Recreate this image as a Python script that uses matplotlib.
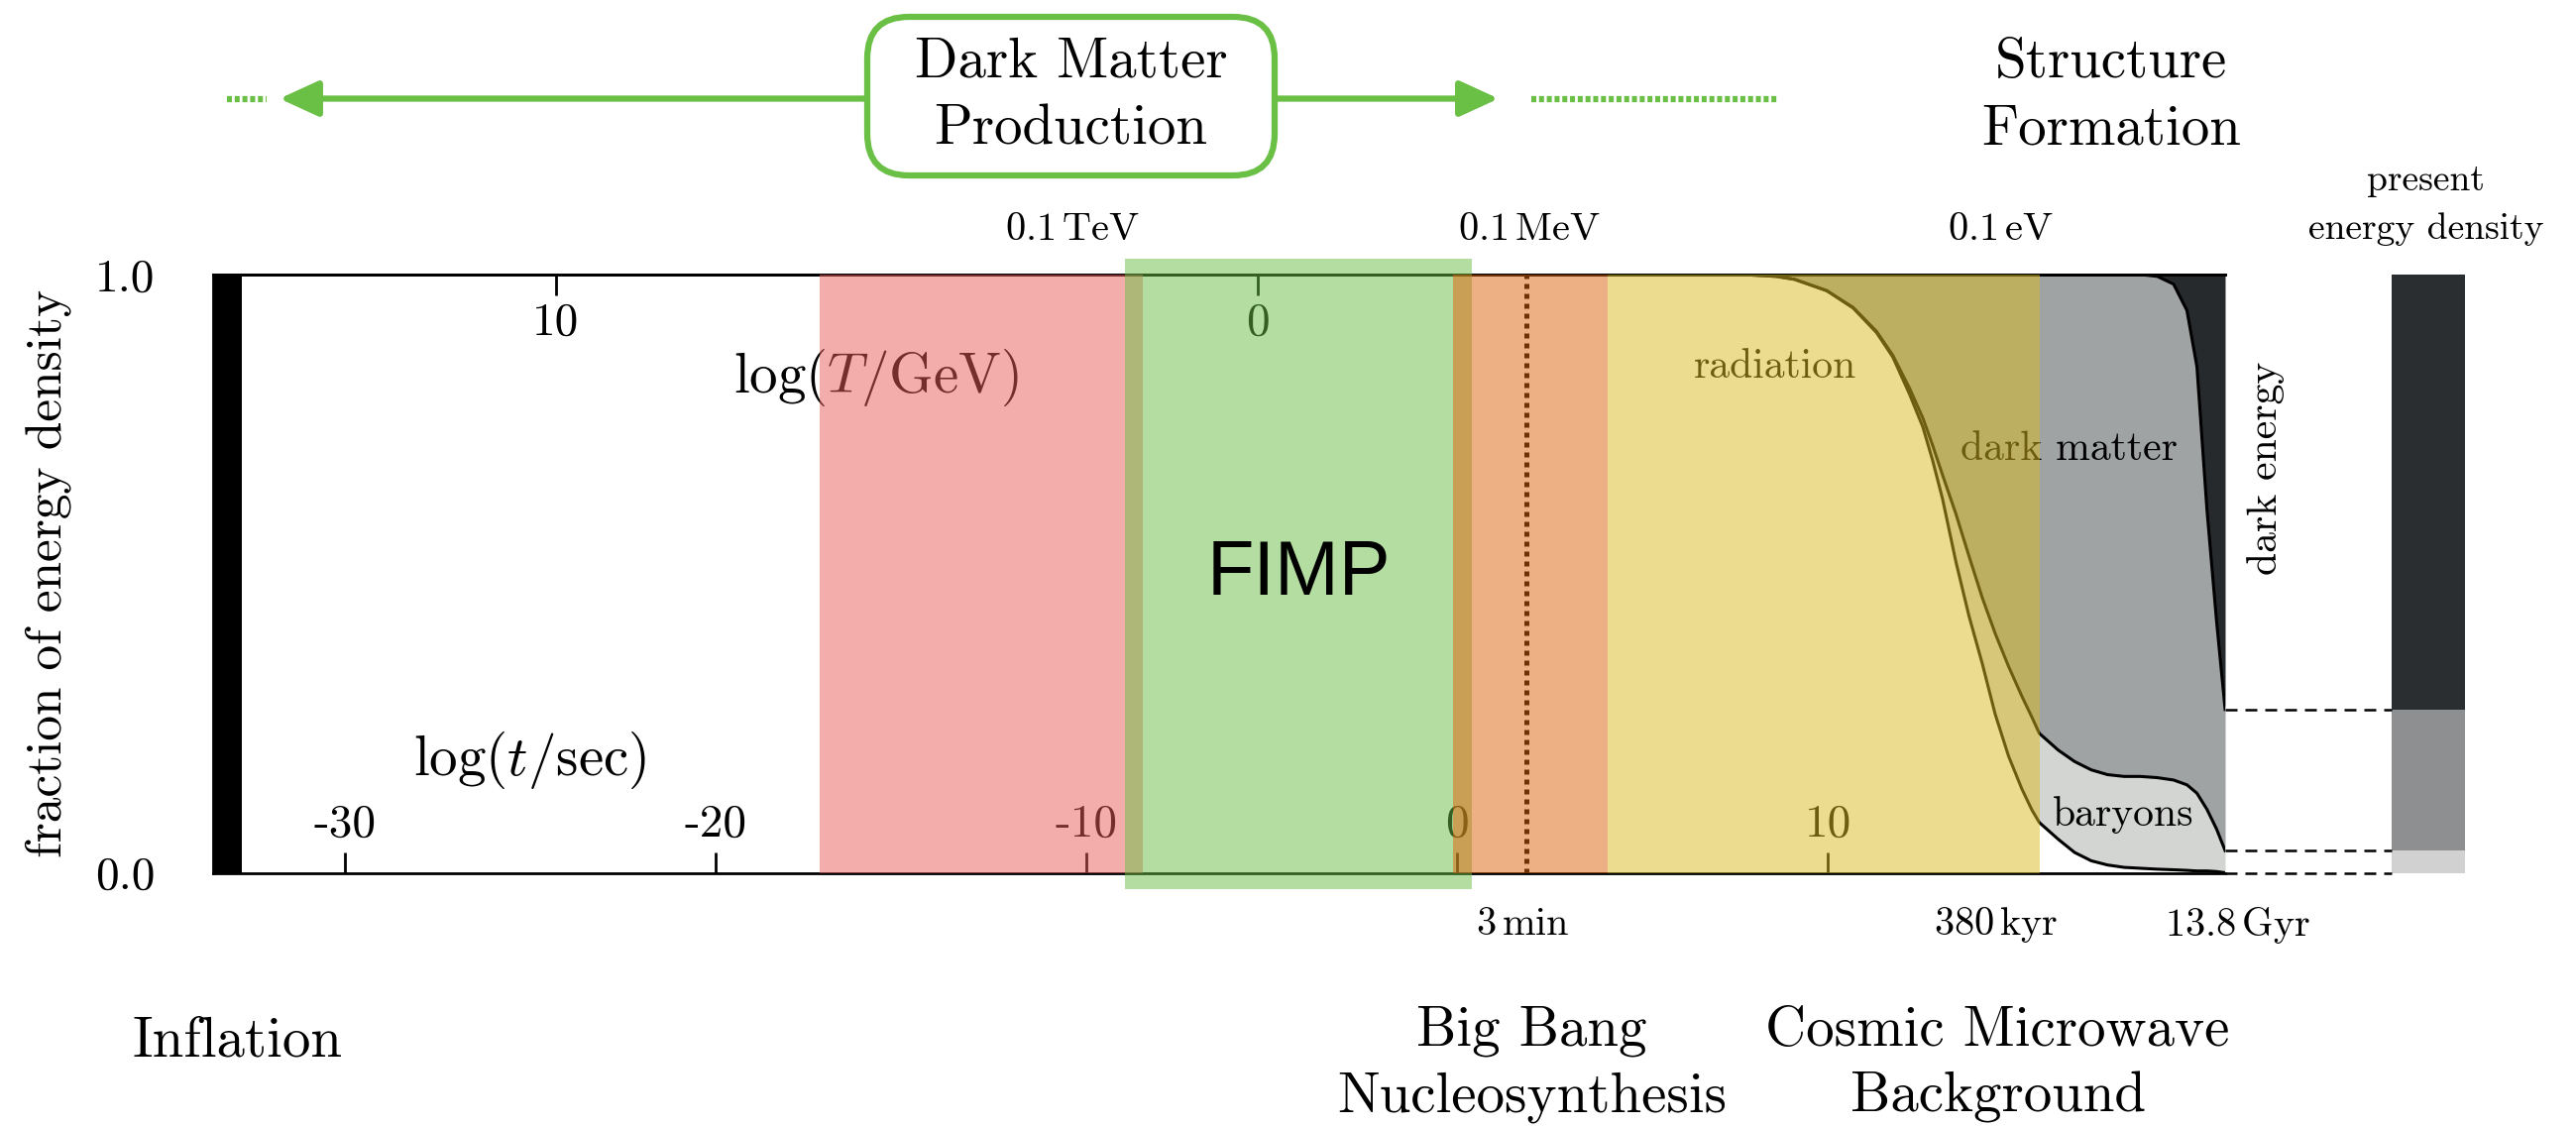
import numpy as np
import matplotlib.pyplot as plt
from matplotlib.patches import FancyBboxPatch, FancyArrowPatch
from matplotlib.lines import Line2D

plt.rcParams['font.family'] = 'cmr10'
plt.rcParams['mathtext.fontset'] = 'cm'
plt.rcParams['axes.unicode_minus'] = False

# energy budget vs time, x = log10(t / sec)
log_t = [7.7, 8.6, 9.1, 9.97, 10.68, 11.31, 11.75, 12.2, 12.56, 12.82, 13.09,
         13.45, 13.8, 14.16, 14.51, 14.87, 15.23, 15.5, 15.7, 16.21, 16.65,
         17.1, 17.54, 17.99, 18.43, 18.88, 19.32, 19.68, 19.95, 20.22, 20.48,
         20.71]
# upper edge of radiation
rad_top = [1.0, 0.997, 0.992, 0.973, 0.944, 0.903, 0.862, 0.80, 0.745, 0.69,
           0.625, 0.52, 0.43, 0.35, 0.265, 0.195, 0.14, 0.105, 0.084, 0.056,
           0.034, 0.02, 0.013, 0.009, 0.0075, 0.006, 0.005, 0.004, 0.003,
           0.003, 0.002, 0.0]
# upper edge of radiation + baryons
bar_top = [1.0, 0.997, 0.992, 0.973, 0.945, 0.905, 0.865, 0.81, 0.76, 0.715,
           0.665, 0.60, 0.53, 0.46, 0.40, 0.345, 0.295, 0.26, 0.233, 0.205,
           0.186, 0.172, 0.164, 0.161, 0.161, 0.159, 0.155, 0.147, 0.133,
           0.106, 0.073, 0.037]
# upper edge of radiation + baryons + dark matter (dark energy above)
dm_top = [1.0] * 25 + [0.997, 0.984, 0.94, 0.846, 0.607, 0.42, 0.273]

# today: baryons, dark matter, dark energy
present_names = ['baryons', 'dark matter', 'dark energy']
present_fracs = [0.037, 0.236, 0.727]
present_colors = ['#d1d1d1', '#8e8f91', '#2b2e31']

# shaded epochs (log t range)
era_names = ['electroweak', 'fimp', 'bbn', 'cmb']
era_lo = [-17.19, -8.96, -0.10, 4.06]
era_hi = [-8.47, 0.39, 4.06, 15.70]
era_colors = ['#e95f5b', '#6abf45', '#dd610b', '#dbbb21']
inflation = (-33.55, -32.78)
bbn_t = 1.86

t_ticks = [-30, -20, -10, 0, 10]
T_ticks = [10, 0]

T_marks = [r'$0.1\,\mathrm{TeV}$', r'$0.1\,\mathrm{MeV}$', r'$0.1\,\mathrm{eV}$']
T_marks_at = [-10.37, 1.95, 14.66]
t_marks = [r'$3\,\mathrm{min}$', r'$380\,\mathrm{kyr}$', r'$13.8\,\mathrm{Gyr}$']
t_marks_at = [1.77, 14.53, 21.04]


def to_T(x):
    return -2.834 - 0.528 * np.asarray(x)


def to_t(x):
    return (-2.834 - np.asarray(x)) / 0.528


fig = plt.figure(figsize=(25.99, 11.37), dpi=100)
ax = fig.add_axes([0.08265, 0.22559, 0.78114, 0.53079])
ax.set_xlim(-33.55, 20.71)
ax.set_ylim(0, 1)

# stacked energy fractions
ax.fill_between(log_t, rad_top, bar_top, color='#d3d5d3', lw=0, zorder=1)
ax.fill_between(log_t, bar_top, dm_top, color='#a0a3a4', lw=0, zorder=1)
ax.fill_between(log_t, dm_top, 1, color='#272a2d', lw=0, zorder=1)
for curve in (rad_top, bar_top, dm_top):
    ax.plot(log_t, curve, color='black', lw=2.2, zorder=2)

ax.axvspan(*inflation, color='black', lw=0, zorder=2)
ax.axvline(bbn_t, color='black', ls=(0, (1, 1)), lw=3.6, zorder=2)

# epochs drawn semi-transparent on top
for name, lo, hi, c in zip(era_names, era_lo, era_hi, era_colors):
    if name == 'fimp':
        ax.axvspan(lo, hi, ymin=-0.027, ymax=1.027, color=c, alpha=0.5, lw=0,
                   zorder=4, clip_on=False)
    else:
        ax.axvspan(lo, hi, color=c, alpha=0.5, lw=0, zorder=4)

# present energy density bar
bottoms = np.concatenate([[0], np.cumsum(present_fracs)[:-1]])
ax.bar([26.18] * 3, present_fracs, width=1.97, bottom=bottoms,
       color=present_colors, lw=0, clip_on=False)
ax.hlines([bottoms[2], bottoms[1], 0.0], 20.71, 25.2, colors='black',
          linestyles=(0, (4.8, 3.2)), lw=1.8, clip_on=False)

# axes
ax.set_xticks(t_ticks)
ax.set_xticklabels([str(v) for v in t_ticks])
ax.tick_params(axis='x', direction='in', length=15, width=2, pad=-50,
               labelsize=34)
ax.set_yticks([0, 1])
ax.set_yticklabels(['0.0', '1.0'])
ax.tick_params(axis='y', length=0, pad=42, labelsize=34)
ax.set_ylabel('fraction of energy density', fontsize=37, labelpad=17)
ax.spines['right'].set_visible(False)
for s in ('left', 'top', 'bottom'):
    ax.spines[s].set_linewidth(2)

sec = ax.secondary_xaxis('top', functions=(to_T, to_t))
sec.set_xticks(T_ticks)
sec.set_xticklabels([str(v) for v in T_ticks])
sec.tick_params(direction='in', length=15, width=2, pad=-50, labelsize=34)
sec.spines['top'].set_linewidth(2)
sec.set_zorder(2.5)

ax.text(-15.66, 0.828, r'$\log(T/\mathrm{GeV})$', fontsize=41,
        ha='center', va='center', zorder=3)
ax.text(-24.99, 0.188, r'$\log(t/\mathrm{sec})$', fontsize=41,
        ha='center', va='center', zorder=3)
ax.text(8.58, 0.846, 'radiation', fontsize=30, ha='center', va='center',
        zorder=3)
ax.text(16.50, 0.708, 'dark matter', fontsize=30, ha='center', va='center',
        zorder=3)
ax.text(17.97, 0.097, 'baryons', fontsize=30, ha='center', va='center',
        zorder=3)
ax.text(21.82, 0.677, 'dark energy', fontsize=30, rotation=90,
        ha='center', va='center')
ax.text(-4.28, 0.498, 'FIMP', family='Liberation Sans', fontsize=56,
        ha='center', va='center', zorder=6)

for lab, x in zip(T_marks, T_marks_at):
    ax.text(x, 1.0746, lab, fontsize=29, ha='center', va='center')
for lab, x in zip(t_marks, t_marks_at):
    ax.text(x, -0.087, lab, fontsize=29, ha='center', va='center')

ax.text(26.13, 1.116, 'present\nenergy density', fontsize=27,
        ha='center', va='center', linespacing=1.55)
ax.text(-32.88, -0.2825, 'Inflation', fontsize=41, ha='center', va='center')
ax.text(2.02, -0.3206, 'Big Bang\nNucleosynthesis', fontsize=41,
        ha='center', va='center', linespacing=1.38)
ax.text(14.58, -0.3206, 'Cosmic Microwave\nBackground', fontsize=41,
        ha='center', va='center', linespacing=1.38)

# dark matter production banner
green = '#6abf45'
inch = fig.dpi_scale_trans
for x0, x1 in [(8.75, 2.82), (12.86, 15.12)]:
    fig.add_artist(FancyArrowPatch((x0, 10.375), (x1, 10.375), transform=inch,
                                   arrowstyle='-|>,head_length=1.2,head_width=0.55',
                                   mutation_scale=20, color=green, lw=4.5,
                                   shrinkA=0, shrinkB=0))
for x0, x1 in [(2.29, 2.69), (15.45, 17.95)]:
    fig.add_artist(Line2D([x0, x1], [10.375, 10.375], transform=inch,
                          color=green, lw=4.5, ls=(0, (0.8, 0.45))))
fig.add_artist(FancyBboxPatch((8.75, 9.60), 4.11, 1.60,
                              boxstyle='round,pad=0,rounding_size=0.42',
                              transform=inch, fc='white', ec=green, lw=4.5))
fig.text(10.805, 10.40, 'Dark Matter\nProduction', transform=inch,
         ha='center', va='center', fontsize=41, linespacing=1.42)
fig.text(21.30, 10.40, 'Structure\nFormation', transform=inch,
         ha='center', va='center', fontsize=41, linespacing=1.42)

fig.savefig('out.png', dpi=100)
